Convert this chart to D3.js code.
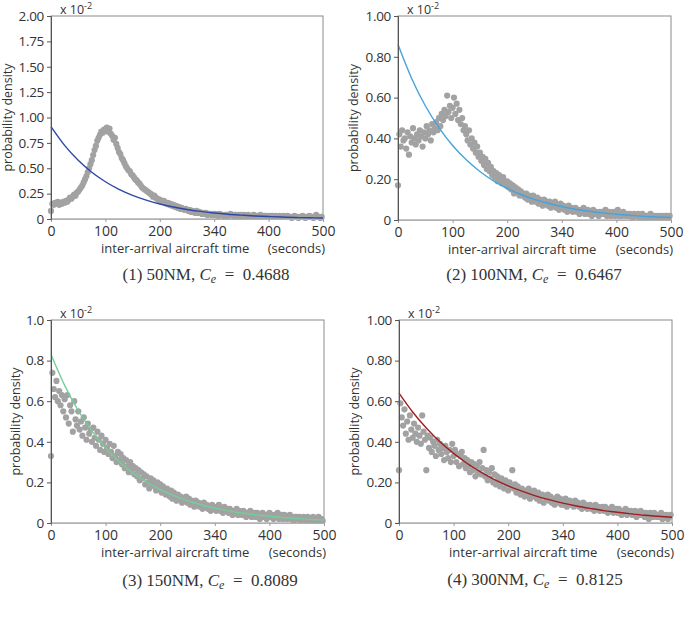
<!DOCTYPE html>
<html>
<head>
<meta charset="utf-8">
<script src="https://cdnjs.cloudflare.com/ajax/libs/d3/7.8.5/d3.min.js"></script>
<style>
  body { margin: 0; background: #fff; }
  svg text { font-family: "Open Sans", "Noto Sans", sans-serif; fill: #333; }
</style>
</head>
<body>
<svg id="chart" width="685" height="626"></svg>
<script>
// histogram bins every 2.5 s, values in units of 1e-2
const binSec = 2.5;
const xTickValues = [0, 100, 200, 300, 400, 500];
const xTickLabels = ['0', '100', '200', '340', '400', '500'];
const curveX = [0, 25, 50, 75, 100, 125, 150, 175, 200, 225, 250, 275, 300, 325, 350, 375, 400, 425, 450, 475, 500];

const dots50 = [
  0.08, 0.15, 0.14, 0.16, 0.15, 0.17, 0.14, 0.16, 0.15, 0.17,
  0.16, 0.18, 0.17, 0.19, 0.21, 0.20, 0.22, 0.24, 0.23, 0.26,
  0.27, 0.29, 0.31, 0.33, 0.36, 0.39, 0.42, 0.46, 0.50, 0.54,
  0.58, 0.63, 0.68, 0.72, 0.77, 0.80, 0.83, 0.86, 0.85, 0.88,
  0.87, 0.90, 0.86, 0.89, 0.84, 0.82, 0.78, 0.80, 0.74, 0.70,
  0.66, 0.64, 0.60, 0.58, 0.55, 0.52, 0.50, 0.48, 0.47, 0.44,
  0.43, 0.41, 0.39, 0.38, 0.36, 0.35, 0.33, 0.31, 0.30, 0.29,
  0.28, 0.27, 0.26, 0.25, 0.24, 0.22, 0.23, 0.21, 0.20, 0.19,
  0.19, 0.18, 0.17, 0.18, 0.16, 0.15, 0.16, 0.14, 0.15, 0.13,
  0.14, 0.12, 0.13, 0.11, 0.12, 0.10, 0.11, 0.10, 0.09, 0.10,
  0.09, 0.08, 0.09, 0.07, 0.08, 0.07, 0.06, 0.08, 0.06, 0.07,
  0.06, 0.05, 0.06, 0.05, 0.06, 0.04, 0.05, 0.05, 0.04, 0.05,
  0.04, 0.05, 0.04, 0.03, 0.05, 0.04, 0.04, 0.03, 0.04, 0.04,
  0.03, 0.04, 0.05, 0.04, 0.03, 0.04, 0.04, 0.03, 0.04, 0.03,
  0.04, 0.03, 0.04, 0.03, 0.03, 0.04, 0.03, 0.02, 0.03, 0.04,
  0.03, 0.03, 0.02, 0.03, 0.04, 0.03, 0.02, 0.03, 0.03, 0.02,
  0.03, 0.02, 0.03, 0.03, 0.02, 0.03, 0.02, 0.02, 0.03, 0.02,
  0.02, 0.03, 0.02, 0.02, 0.03, 0.02, 0.02, 0.01, 0.02, 0.03,
  0.02, 0.02, 0.01, 0.02, 0.02, 0.03, 0.02, 0.01, 0.02, 0.02,
  0.03, 0.02, 0.02, 0.01, 0.02, 0.04, 0.02, 0.02, 0.01, 0.02
];
const dots100 = [
  0.17, 0.42, 0.36, 0.44, 0.39, 0.40, 0.35, 0.43, 0.32, 0.41,
  0.38, 0.45, 0.40, 0.37, 0.42, 0.39, 0.44, 0.41, 0.36, 0.43,
  0.40, 0.46, 0.42, 0.44, 0.39, 0.47, 0.43, 0.45, 0.48, 0.44,
  0.50, 0.46, 0.52, 0.49, 0.54, 0.51, 0.61, 0.53, 0.56, 0.50,
  0.55, 0.60, 0.52, 0.57, 0.49, 0.54, 0.47, 0.50, 0.44, 0.46,
  0.42, 0.39, 0.44, 0.37, 0.40, 0.35, 0.38, 0.33, 0.36, 0.31,
  0.33, 0.29, 0.31, 0.27, 0.30, 0.25, 0.28, 0.24, 0.26, 0.22,
  0.24, 0.21, 0.23, 0.19, 0.22, 0.20, 0.18, 0.21, 0.19, 0.17,
  0.19, 0.16, 0.18, 0.15, 0.17, 0.13, 0.16, 0.14, 0.15, 0.12,
  0.14, 0.12, 0.13, 0.11, 0.13, 0.10, 0.12, 0.11, 0.09, 0.12,
  0.10, 0.09, 0.11, 0.08, 0.10, 0.09, 0.07, 0.10, 0.08, 0.09,
  0.07, 0.09, 0.06, 0.08, 0.07, 0.09, 0.06, 0.07, 0.05, 0.08,
  0.06, 0.07, 0.05, 0.06, 0.04, 0.07, 0.05, 0.06, 0.04, 0.05,
  0.06, 0.04, 0.05, 0.03, 0.05, 0.04, 0.06, 0.03, 0.04, 0.05,
  0.03, 0.04, 0.02, 0.05, 0.03, 0.04, 0.03, 0.02, 0.04, 0.03,
  0.04, 0.03, 0.05, 0.02, 0.03, 0.04, 0.02, 0.03, 0.04, 0.02,
  0.03, 0.05, 0.02, 0.03, 0.02, 0.04, 0.03, 0.02, 0.03, 0.02,
  0.03, 0.02, 0.01, 0.03, 0.02, 0.02, 0.03, 0.01, 0.02, 0.03,
  0.02, 0.01, 0.02, 0.02, 0.01, 0.03, 0.02, 0.01, 0.02, 0.01,
  0.02, 0.01, 0.02, 0.01, 0.02, 0.01, 0.02, 0.02, 0.01, 0.02
];
const dots150 = [
  0.33, 0.74, 0.66, 0.62, 0.70, 0.60, 0.65, 0.58, 0.63, 0.55,
  0.61, 0.52, 0.63, 0.49, 0.58, 0.55, 0.45, 0.60, 0.51, 0.48,
  0.55, 0.46, 0.50, 0.43, 0.52, 0.47, 0.41, 0.49, 0.44, 0.46,
  0.40, 0.47, 0.42, 0.38, 0.45, 0.41, 0.36, 0.43, 0.39, 0.35,
  0.41, 0.37, 0.34, 0.39, 0.35, 0.32, 0.38, 0.33, 0.30, 0.35,
  0.31, 0.34, 0.29, 0.32, 0.27, 0.31, 0.28, 0.25, 0.30, 0.26,
  0.28, 0.24, 0.27, 0.23, 0.26, 0.21, 0.25, 0.22, 0.24, 0.19,
  0.23, 0.20, 0.17, 0.22, 0.19, 0.21, 0.18, 0.16, 0.20, 0.17,
  0.19, 0.15, 0.18, 0.16, 0.14, 0.17, 0.15, 0.13, 0.16, 0.12,
  0.15, 0.13, 0.11, 0.14, 0.12, 0.13, 0.10, 0.12, 0.11, 0.13,
  0.10, 0.12, 0.09, 0.11, 0.10, 0.08, 0.11, 0.09, 0.10, 0.08,
  0.09, 0.07, 0.10, 0.08, 0.09, 0.07, 0.08, 0.06, 0.09, 0.07,
  0.08, 0.06, 0.07, 0.09, 0.06, 0.07, 0.05, 0.08, 0.06, 0.07,
  0.05, 0.07, 0.06, 0.04, 0.06, 0.05, 0.07, 0.04, 0.06, 0.05,
  0.04, 0.06, 0.05, 0.03, 0.05, 0.04, 0.06, 0.03, 0.04, 0.05,
  0.03, 0.05, 0.04, 0.02, 0.04, 0.05, 0.03, 0.04, 0.02, 0.04,
  0.05, 0.03, 0.04, 0.02, 0.04, 0.03, 0.05, 0.02, 0.03, 0.04,
  0.02, 0.04, 0.03, 0.02, 0.03, 0.04, 0.02, 0.03, 0.01, 0.03,
  0.03, 0.02, 0.03, 0.01, 0.02, 0.03, 0.02, 0.01, 0.03, 0.02,
  0.02, 0.01, 0.03, 0.02, 0.01, 0.02, 0.03, 0.01, 0.02, 0.01
];
const dots300 = [
  0.26, 0.59, 0.52, 0.48, 0.56, 0.44, 0.50, 0.41, 0.53, 0.46,
  0.42, 0.49, 0.44, 0.40, 0.47, 0.43, 0.39, 0.53, 0.45, 0.41,
  0.26, 0.43, 0.37, 0.42, 0.35, 0.40, 0.38, 0.33, 0.41, 0.36,
  0.39, 0.34, 0.37, 0.31, 0.38, 0.35, 0.32, 0.36, 0.30, 0.39,
  0.33, 0.36, 0.30, 0.34, 0.28, 0.33, 0.35, 0.29, 0.32, 0.27,
  0.31, 0.28, 0.25, 0.30, 0.26, 0.29, 0.23, 0.28, 0.25, 0.30,
  0.24, 0.27, 0.36, 0.23, 0.26, 0.21, 0.25, 0.22, 0.27, 0.20,
  0.24, 0.19, 0.23, 0.21, 0.18, 0.22, 0.20, 0.17, 0.21, 0.19,
  0.16, 0.20, 0.18, 0.26, 0.17, 0.19, 0.15, 0.18, 0.16, 0.14,
  0.17, 0.15, 0.13, 0.16, 0.14, 0.17, 0.12, 0.15, 0.13, 0.16,
  0.14, 0.12, 0.15, 0.11, 0.13, 0.14, 0.10, 0.13, 0.12, 0.14,
  0.11, 0.13, 0.10, 0.12, 0.09, 0.11, 0.13, 0.10, 0.12, 0.09,
  0.11, 0.09, 0.12, 0.08, 0.10, 0.11, 0.09, 0.10, 0.08, 0.11,
  0.09, 0.10, 0.08, 0.09, 0.07, 0.10, 0.08, 0.09, 0.07, 0.08,
  0.09, 0.07, 0.08, 0.06, 0.09, 0.07, 0.08, 0.06, 0.07, 0.08,
  0.06, 0.08, 0.07, 0.05, 0.07, 0.06, 0.08, 0.05, 0.06, 0.07,
  0.05, 0.07, 0.06, 0.04, 0.06, 0.05, 0.07, 0.04, 0.06, 0.05,
  0.06, 0.04, 0.05, 0.06, 0.03, 0.05, 0.04, 0.06, 0.04, 0.05,
  0.03, 0.05, 0.04, 0.02, 0.05, 0.04, 0.03, 0.05, 0.04, 0.03,
  0.04, 0.03, 0.05, 0.02, 0.04, 0.03, 0.04, 0.02, 0.03, 0.04
];

// fitted exponential curves, read at curveX
const fit50 = [0.91, 0.725, 0.578, 0.46, 0.367, 0.292, 0.233, 0.186, 0.148, 0.118, 0.094, 0.075, 0.059, 0.047, 0.038, 0.03, 0.024, 0.019, 0.015, 0.012, 0.01];
const fit100 = [0.86, 0.694, 0.56, 0.453, 0.365, 0.295, 0.238, 0.192, 0.155, 0.125, 0.101, 0.082, 0.066, 0.053, 0.043, 0.035, 0.028, 0.023, 0.018, 0.015, 0.012];
const fit150 = [0.83, 0.678, 0.553, 0.453, 0.37, 0.302, 0.247, 0.202, 0.165, 0.135, 0.11, 0.09, 0.073, 0.06, 0.049, 0.04, 0.033, 0.027, 0.022, 0.018, 0.014];
const fit300 = [0.64, 0.547, 0.468, 0.4, 0.343, 0.293, 0.251, 0.214, 0.183, 0.157, 0.134, 0.115, 0.098, 0.084, 0.072, 0.061, 0.053, 0.045, 0.038, 0.033, 0.028];

const panels = [
  { dots: dots50, fit: fit50, color: '#2d47a5', yMax: 2, yTicks: [0, 0.25, 0.5, 0.75, 1, 1.25, 1.5, 1.75, 2], yFmt: d => d === 0 ? '0' : d.toFixed(2),
    left: 51, right: 323, top: 16, bottom: 219, labelX: 8, range: '50NM', ce: '0.4688', capX: 206, capY: 280 },
  { dots: dots100, fit: fit100, color: '#45a3dd', yMax: 1, yTicks: [0, 0.2, 0.4, 0.6, 0.8, 1], yFmt: d => d === 0 ? '0' : d.toFixed(2),
    left: 398, right: 671, top: 16, bottom: 220, labelX: 354, range: '100NM', ce: '0.6467', capX: 534, capY: 280 },
  { dots: dots150, fit: fit150, color: '#72cf98', yMax: 1, yTicks: [0, 0.2, 0.4, 0.6, 0.8, 1], yFmt: d => d === 0 ? '0' : d.toFixed(1),
    left: 51, right: 324, top: 320, bottom: 523, labelX: 16, range: '150NM', ce: '0.8089', capX: 210, capY: 586 },
  { dots: dots300, fit: fit300, color: '#a01d20', yMax: 1, yTicks: [0, 0.2, 0.4, 0.6, 0.8, 1], yFmt: d => d === 0 ? '0' : d.toFixed(2),
    left: 399, right: 672, top: 320, bottom: 523, labelX: 355, range: '300NM', ce: '0.8125', capX: 535, capY: 585 }
];

const svg = d3.select('#chart');

panels.forEach((p, idx) => {
  const x = d3.scaleLinear().domain([0, 500]).range([p.left, p.right]);
  const y = d3.scaleLinear().domain([0, p.yMax]).range([p.bottom, p.top]);
  const g = svg.append('g');

  // frame
  g.append('rect')
    .attr('x', p.left).attr('y', p.top)
    .attr('width', p.right - p.left).attr('height', p.bottom - p.top)
    .attr('fill', 'none').attr('stroke', '#8a8a8a').attr('stroke-width', 1);

  // dots
  g.append('g').selectAll('circle')
    .data(p.dots)
    .enter()
    .append('circle')
    .attr('cx', (d, i) => x(i * binSec))
    .attr('cy', d => y(d))
    .attr('r', 3.1)
    .attr('fill', '#a2a2a2');

  // fitted curve
  const line = d3.line()
    .x((d, i) => x(curveX[i]))
    .y(d => y(d))
    .curve(d3.curveMonotoneX);
  g.append('path')
    .datum(p.fit)
    .attr('d', line)
    .attr('fill', 'none')
    .attr('stroke', p.color)
    .attr('stroke-width', 1.4);

  // x axis
  const xAxis = g.append('g')
    .attr('transform', `translate(0,${p.bottom})`)
    .call(d3.axisBottom(x)
      .tickValues(xTickValues)
      .tickFormat((d, i) => xTickLabels[i])
      .tickSize(3)
      .tickPadding(4));
  xAxis.select('.domain').attr('stroke', '#b0b0b0');
  xAxis.selectAll('.tick line').attr('stroke', '#999');
  xAxis.selectAll('text').style('font-size', '14px').attr('fill', '#333');

  // y axis
  const yAxis = g.append('g')
    .attr('transform', `translate(${p.left},0)`)
    .call(d3.axisLeft(y)
      .tickValues(p.yTicks)
      .tickFormat(p.yFmt)
      .tickSize(4)
      .tickPadding(3));
  yAxis.select('.domain').attr('stroke', '#555');
  yAxis.selectAll('.tick line').attr('stroke', '#555');
  yAxis.selectAll('text').style('font-size', '13.5px').style('letter-spacing', '-0.3px').attr('fill', '#333');

  // y label
  g.append('text')
    .attr('transform', `translate(${p.labelX},${(p.top + p.bottom) / 2}) rotate(-90)`)
    .attr('text-anchor', 'middle')
    .attr('dy', '0.35em')
    .style('font-size', '12.5px')
    .text('probability density');

  // scale factor
  const sf = g.append('text')
    .attr('x', p.left + 9)
    .attr('y', p.top - 2)
    .style('font-size', '12.5px');
  sf.append('tspan').text('x 10');
  sf.append('tspan').attr('dy', -5).style('font-size', '9px').text('-2');

  // x labels
  g.append('text')
    .attr('x', p.left + 50)
    .attr('y', p.bottom + 34)
    .style('font-size', '13px')
    .text('inter-arrival aircraft time');
  g.append('text')
    .attr('x', p.right + 2)
    .attr('y', p.bottom + 34)
    .attr('text-anchor', 'end')
    .style('font-size', '13px')
    .text('(seconds)');

  // caption
  const cap = g.append('text')
    .attr('x', p.capX)
    .attr('y', p.capY)
    .attr('text-anchor', 'middle')
    .style('font-size', '17px')
    .style('font-family', '"Liberation Serif", "DejaVu Serif", serif')
    .attr('fill', '#222');
  cap.append('tspan').text(`(${idx + 1}) ${p.range}, `);
  cap.append('tspan').style('font-style', 'italic').text('C');
  cap.append('tspan').style('font-style', 'italic').style('font-size', '12px').attr('dy', 3).text('e');
  cap.append('tspan').attr('dy', -3).text(`\u00a0\u00a0=\u00a0\u00a0${p.ce}`);
});
</script>
</body>
</html>
